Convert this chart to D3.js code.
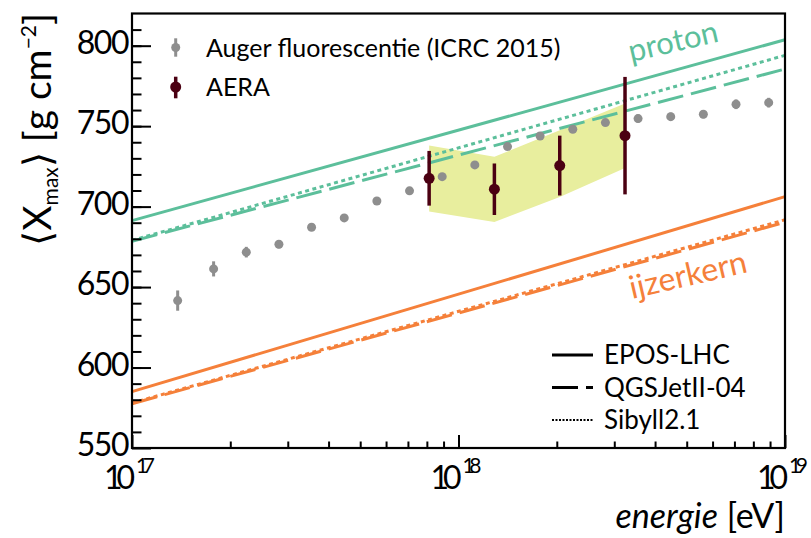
<!DOCTYPE html>
<html>
<head>
<meta charset="utf-8">
<title>Xmax vs energie</title>
<style>
  body { margin: 0; background: #fff; }
  svg text { font-family: Lato, "Open Sans", sans-serif; fill: #000; }
  .frame { fill: none; stroke: #000; stroke-width: 2.2; }
  .axis path { display: none; }
  .axis line { stroke: #000; stroke-width: 2; }
  .axis text { font-size: 32px; font-family: Lato, sans-serif; letter-spacing: -1.5px; }
</style>
</head>
<body>
<svg id="chart" width="811" height="538"></svg>
<script src="https://d3js.org/d3.v7.min.js"></script>
<script>
// Auger fluorescentie (ICRC 2015)
var augerEnergy = [1.380e17, 1.778e17, 2.239e17, 2.818e17, 3.548e17, 4.467e17, 5.623e17, 7.079e17, 8.913e17,
                   1.122e18, 1.413e18, 1.778e18, 2.239e18, 2.818e18, 3.548e18, 4.467e18, 5.623e18, 7.079e18, 8.913e18];
var augerXmax = [641.6, 661.3, 671.7, 676.6, 687.2, 693.0, 703.5, 709.8, 718.6,
                 725.9, 737.3, 743.9, 748.1, 752.2, 754.7, 755.9, 757.4, 763.6, 764.6];
var augerErr = [6.3, 4.7, 3.3, 2.5, 2.2, 2, 2, 2, 2, 2, 2, 2, 2, 2, 2.5, 2.5, 2.5, 3, 3];

// AERA
var aeraEnergy = [8.13e17, 1.288e18, 2.042e18, 3.236e18];
var aeraXmax = [717.6, 710.8, 725.5, 744.1];
var aeraErr = [17, 16, 18.6, 36.5];
var aeraSysUp = [738, 731, 747.5, 764];
var aeraSysLow = [697, 690.5, 706, 724];

// models (straight lines between 1e17 and 1e19 eV)
var models = ['EPOS-LHC', 'QGSJetII-04', 'Sibyll2.1'];
var modelEnergy = [1e17, 1e19];
var protonXmax = [[691.3, 803.7], [678.5, 785.5], [679, 794]];
var ironXmax = [[585, 706.2], [577.5, 690.3], [578, 691.8]];

var yTicks = [550, 600, 650, 700, 750, 800];
var xTickExp = [17, 18, 19];

var green = '#5cbf9b', orange = '#f5803a', grey = '#8e8e8e', aeraColor = '#4b0012';
var dashes = [null, '26,8', '4,3.5'];

var svg = d3.select('#chart');

var x = d3.scaleLog().domain([1e17, 1e19]).range([132, 785]);
var y = d3.scaleLinear().domain([550, 820]).range([448, 13.5]);

// systematic band AERA
var band = aeraEnergy.map(function(e, i) { return [x(e), y(aeraSysUp[i])]; })
  .concat(aeraEnergy.map(function(e, i) { return [x(e), y(aeraSysLow[i])]; }).reverse());
svg.append('path')
  .attr('d', 'M' + band.join('L') + 'Z')
  .attr('fill', '#e8ee9e');

// model lines
var line = d3.line()
  .x(function(d) { return x(d[0]); })
  .y(function(d) { return y(d[1]); });

function drawModel(values, color) {
  values.forEach(function(v, i) {
    svg.append('path')
      .attr('d', line(modelEnergy.map(function(e, j) { return [e, v[j]]; })))
      .attr('fill', 'none')
      .attr('stroke', color)
      .attr('stroke-width', 3)
      .attr('stroke-dasharray', dashes[i]);
  });
}
drawModel(protonXmax, green);
drawModel(ironXmax, orange);

// Auger points
var auger = svg.append('g').selectAll('g').data(augerEnergy).enter().append('g');
auger.append('line')
  .attr('x1', function(d) { return x(d); })
  .attr('x2', function(d) { return x(d); })
  .attr('y1', function(d, i) { return y(augerXmax[i] + augerErr[i]); })
  .attr('y2', function(d, i) { return y(augerXmax[i] - augerErr[i]); })
  .attr('stroke', grey).attr('stroke-width', 3);
auger.append('circle')
  .attr('cx', function(d) { return x(d); })
  .attr('cy', function(d, i) { return y(augerXmax[i]); })
  .attr('r', 4.5)
  .attr('fill', grey);

// AERA points
var aera = svg.append('g').selectAll('g').data(aeraEnergy).enter().append('g');
aera.append('line')
  .attr('x1', function(d) { return x(d); })
  .attr('x2', function(d) { return x(d); })
  .attr('y1', function(d, i) { return y(aeraXmax[i] + aeraErr[i]); })
  .attr('y2', function(d, i) { return y(aeraXmax[i] - aeraErr[i]); })
  .attr('stroke', aeraColor).attr('stroke-width', 3.5);
aera.append('circle')
  .attr('cx', function(d) { return x(d); })
  .attr('cy', function(d, i) { return y(aeraXmax[i]); })
  .attr('r', 5.5)
  .attr('fill', aeraColor);

// axes
svg.append('g').attr('class', 'axis')
  .attr('transform', 'translate(132,0)')
  .call(d3.axisLeft(y).tickValues(yTicks).tickSize(-19).tickPadding(4).tickFormat(d3.format('d')))
  .call(function(g) {
    g.attr('font-size', null).attr('font-family', null);
    g.selectAll('text').attr('dy', '0.24em');
  });
svg.append('g').attr('class', 'axis')
  .attr('transform', 'translate(132,0)')
  .call(d3.axisLeft(y).tickValues(d3.range(560, 820, 10)).tickSize(-9.5).tickFormat(''));

svg.append('g').attr('class', 'axis')
  .attr('transform', 'translate(0,448)')
  .call(d3.axisBottom(x).tickValues(xTickExp.map(function(e) { return Math.pow(10, e); })).tickSize(-13).tickFormat(''));
svg.append('g').attr('class', 'axis')
  .attr('transform', 'translate(0,448)')
  .call(d3.axisBottom(x).tickValues(x.ticks().filter(function(t) { return Math.abs(Math.log10(t) % 1) > 0.01; })).tickSize(-6.5).tickFormat(''));

// x tick labels 10^n
var xl = svg.append('g').selectAll('g').data(xTickExp).enter().append('g')
  .attr('transform', function(d) { return 'translate(' + x(Math.pow(10, d)) + ',0)'; });
xl.append('text')
  .attr('x', 3).attr('y', 489)
  .attr('text-anchor', 'end')
  .attr('font-size', 32)
  .attr('textLength', 31)
  .attr('lengthAdjust', 'spacing')
  .text('10');
xl.append('text')
  .attr('x', 4).attr('y', 473)
  .attr('font-size', 21)
  .attr('textLength', 19)
  .attr('lengthAdjust', 'spacing')
  .text(function(d) { return d; });

svg.append('rect').attr('class', 'frame')
  .attr('x', 132).attr('y', 13.5).attr('width', 653).attr('height', 434.5);

// axis titles
var yt = svg.append('text')
  .attr('transform', 'translate(51,13) rotate(-90)')
  .attr('text-anchor', 'end')
  .attr('font-size', 39);
yt.append('tspan').text('⟨X');
yt.append('tspan').attr('font-size', 21).attr('dy', 7).text('max');
yt.append('tspan').attr('dy', -7).text('⟩ [g cm');
yt.append('tspan').attr('font-size', 21).attr('dy', -15).text('−2');
yt.append('tspan').attr('dy', 15).text(']');

var xt = svg.append('text')
  .attr('x', 785).attr('y', 528)
  .attr('text-anchor', 'end')
  .attr('font-size', 34);
xt.append('tspan').attr('font-style', 'italic').text('energie');
xt.append('tspan').text(' [eV]');

// labels on the lines
svg.append('text')
  .attr('transform', 'translate(631,62) rotate(-13)')
  .attr('font-size', 31)
  .style('fill', green)
  .text('proton');
svg.append('text')
  .attr('transform', 'translate(632,299) rotate(-13)')
  .attr('font-size', 32)
  .style('fill', orange)
  .text('ijzerkern');

// legend data points
var lg = svg.append('g');
lg.append('line').attr('x1', 175.7).attr('x2', 175.7).attr('y1', 38.3).attr('y2', 56.7)
  .attr('stroke', grey).attr('stroke-width', 3);
lg.append('circle').attr('cx', 175.7).attr('cy', 47.5).attr('r', 4.5).attr('fill', grey);
lg.append('text').attr('x', 206).attr('y', 47.5).attr('dy', '0.36em').attr('font-size', 25)
  .text('Auger fluorescentie (ICRC 2015)');
lg.append('line').attr('x1', 175.7).attr('x2', 175.7).attr('y1', 76.7).attr('y2', 98.3)
  .attr('stroke', aeraColor).attr('stroke-width', 3.5);
lg.append('circle').attr('cx', 175.7).attr('cy', 87).attr('r', 5.5).attr('fill', aeraColor);
lg.append('text').attr('x', 206).attr('y', 87).attr('dy', '0.36em').attr('font-size', 25)
  .text('AERA');

// legend models
var legendY = [355, 387.5, 420];
var lm = svg.append('g').selectAll('g').data(models).enter().append('g');
lm.append('line')
  .attr('x1', 552).attr('x2', 593)
  .attr('y1', function(d, i) { return legendY[i]; })
  .attr('y2', function(d, i) { return legendY[i]; })
  .attr('stroke', '#000')
  .attr('stroke-width', function(d, i) { return i == 2 ? 2 : 3; })
  .attr('stroke-dasharray', function(d, i) { return i == 2 ? '2,1.5' : dashes[i]; });
lm.append('text')
  .attr('x', 604)
  .attr('y', function(d, i) { return legendY[i]; })
  .attr('dy', '0.36em')
  .attr('font-size', 26)
  .text(function(d) { return d; });
</script>
</body>
</html>
